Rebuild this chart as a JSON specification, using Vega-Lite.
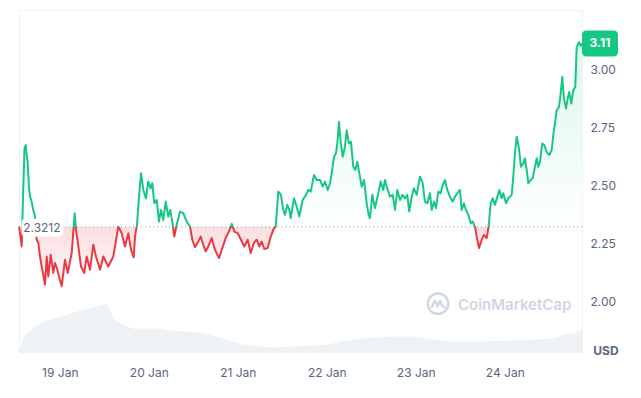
{
  "$schema": "https://vega.github.io/schema/vega-lite/v6.json",
  "width": 563,
  "height": 342,
  "autosize": {"type": "none"},
  "padding": {"left": 19, "top": 10, "right": 59, "bottom": 46},
  "background": "white",
  "config": {
    "view": {"stroke": "#eff2f5"},
    "axis": {"labelFont": "Inter", "labelColor": "#58667e", "labelFontSize": 12},
    "text": {"font": "Inter"}
  },
  "datasets": {
    "price": [
      {"t":"2024-01-18T13:00Z","price":2.323},{"t":"2024-01-18T13:24Z","price":2.28},{"t":"2024-01-18T13:44Z","price":2.237},{"t":"2024-01-18T14:05Z","price":2.45},{"t":"2024-01-18T14:29Z","price":2.66},{"t":"2024-01-18T14:48Z","price":2.673},{"t":"2024-01-18T15:01Z","price":2.64},{"t":"2024-01-18T15:21Z","price":2.596},{"t":"2024-01-18T15:42Z","price":2.489},{"t":"2024-01-18T15:58Z","price":2.451},{"t":"2024-01-18T16:25Z","price":2.43},{"t":"2024-01-18T16:51Z","price":2.394},{"t":"2024-01-18T17:19Z","price":2.366},{"t":"2024-01-18T17:46Z","price":2.266},{"t":"2024-01-18T18:12Z","price":2.253},{"t":"2024-01-18T18:40Z","price":2.194},{"t":"2024-01-18T19:07Z","price":2.151},{"t":"2024-01-18T20:01Z","price":2.073},{"t":"2024-01-18T20:28Z","price":2.194},{"t":"2024-01-18T20:54Z","price":2.108},{"t":"2024-01-18T21:33Z","price":2.201},{"t":"2024-01-18T22:15Z","price":2.123},{"t":"2024-01-18T22:42Z","price":2.166},{"t":"2024-01-18T23:20Z","price":2.137},{"t":"2024-01-18T23:47Z","price":2.108},
      {"t":"2024-01-19T00:31Z","price":2.066},{"t":"2024-01-19T01:24Z","price":2.18},{"t":"2024-01-19T02:08Z","price":2.123},{"t":"2024-01-19T03:13Z","price":2.209},{"t":"2024-01-19T03:45Z","price":2.323},{"t":"2024-01-19T04:01Z","price":2.38},{"t":"2024-01-19T04:22Z","price":2.309},{"t":"2024-01-19T05:00Z","price":2.237},{"t":"2024-01-19T05:43Z","price":2.151},{"t":"2024-01-19T06:37Z","price":2.123},{"t":"2024-01-19T07:15Z","price":2.194},{"t":"2024-01-19T08:09Z","price":2.137},{"t":"2024-01-19T09:02Z","price":2.244},{"t":"2024-01-19T09:46Z","price":2.194},{"t":"2024-01-19T10:51Z","price":2.137},{"t":"2024-01-19T11:44Z","price":2.194},{"t":"2024-01-19T13:05Z","price":2.151},{"t":"2024-01-19T14:26Z","price":2.194},{"t":"2024-01-19T15:47Z","price":2.323},{"t":"2024-01-19T16:42Z","price":2.294},{"t":"2024-01-19T17:35Z","price":2.237},{"t":"2024-01-19T18:29Z","price":2.294},{"t":"2024-01-19T19:12Z","price":2.223},{"t":"2024-01-19T19:56Z","price":2.19},{"t":"2024-01-19T20:17Z","price":2.28},{"t":"2024-01-19T20:49Z","price":2.33},{"t":"2024-01-19T21:22Z","price":2.45},{"t":"2024-01-19T21:54Z","price":2.552},{"t":"2024-01-19T22:31Z","price":2.48},{"t":"2024-01-19T23:15Z","price":2.444},{"t":"2024-01-19T23:52Z","price":2.516},
      {"t":"2024-01-20T00:31Z","price":2.487},{"t":"2024-01-20T00:57Z","price":2.509},{"t":"2024-01-20T01:29Z","price":2.423},{"t":"2024-01-20T02:08Z","price":2.437},{"t":"2024-01-20T02:45Z","price":2.344},{"t":"2024-01-20T03:18Z","price":2.394},{"t":"2024-01-20T03:55Z","price":2.351},{"t":"2024-01-20T04:34Z","price":2.43},{"t":"2024-01-20T05:16Z","price":2.366},{"t":"2024-01-20T05:48Z","price":2.394},{"t":"2024-01-20T06:20Z","price":2.344},{"t":"2024-01-20T06:53Z","price":2.28},{"t":"2024-01-20T07:25Z","price":2.323},{"t":"2024-01-20T08:25Z","price":2.387},{"t":"2024-01-20T09:18Z","price":2.38},{"t":"2024-01-20T10:13Z","price":2.344},{"t":"2024-01-20T11:07Z","price":2.323},{"t":"2024-01-20T11:44Z","price":2.266},{"t":"2024-01-20T12:28Z","price":2.234},{"t":"2024-01-20T13:21Z","price":2.258},{"t":"2024-01-20T14:00Z","price":2.28},{"t":"2024-01-20T14:42Z","price":2.244},{"t":"2024-01-20T15:21Z","price":2.216},{"t":"2024-01-20T16:03Z","price":2.237},{"t":"2024-01-20T16:58Z","price":2.273},{"t":"2024-01-20T17:51Z","price":2.223},{"t":"2024-01-20T18:56Z","price":2.187},{"t":"2024-01-20T19:50Z","price":2.23},{"t":"2024-01-20T20:44Z","price":2.273},{"t":"2024-01-20T21:38Z","price":2.301},{"t":"2024-01-20T22:22Z","price":2.334},{"t":"2024-01-20T23:04Z","price":2.301},{"t":"2024-01-20T23:59Z","price":2.294},
      {"t":"2024-01-21T00:52Z","price":2.266},{"t":"2024-01-21T01:46Z","price":2.237},{"t":"2024-01-21T02:41Z","price":2.266},{"t":"2024-01-21T03:29Z","price":2.209},{"t":"2024-01-21T04:22Z","price":2.252},{"t":"2024-01-21T05:06Z","price":2.266},{"t":"2024-01-21T05:48Z","price":2.237},{"t":"2024-01-21T06:27Z","price":2.258},{"t":"2024-01-21T07:09Z","price":2.226},{"t":"2024-01-21T08:04Z","price":2.23},{"t":"2024-01-21T08:46Z","price":2.273},{"t":"2024-01-21T09:35Z","price":2.309},{"t":"2024-01-21T10:14Z","price":2.323},{"t":"2024-01-21T10:56Z","price":2.473},{"t":"2024-01-21T11:39Z","price":2.459},{"t":"2024-01-21T12:12Z","price":2.4},{"t":"2024-01-21T12:44Z","price":2.373},{"t":"2024-01-21T13:21Z","price":2.416},{"t":"2024-01-21T13:54Z","price":2.394},{"t":"2024-01-21T14:16Z","price":2.359},{"t":"2024-01-21T15:10Z","price":2.444},{"t":"2024-01-21T15:53Z","price":2.408},{"t":"2024-01-21T16:35Z","price":2.366},{"t":"2024-01-21T17:30Z","price":2.437},{"t":"2024-01-21T18:24Z","price":2.459},{"t":"2024-01-21T19:01Z","price":2.48},{"t":"2024-01-21T19:40Z","price":2.473},{"t":"2024-01-21T20:33Z","price":2.544},{"t":"2024-01-21T21:17Z","price":2.523},{"t":"2024-01-21T22:10Z","price":2.523},{"t":"2024-01-21T22:54Z","price":2.494},{"t":"2024-01-21T23:31Z","price":2.516},
      {"t":"2024-01-22T00:15Z","price":2.48},{"t":"2024-01-22T00:52Z","price":2.509},{"t":"2024-01-22T01:20Z","price":2.552},{"t":"2024-01-22T01:57Z","price":2.623},{"t":"2024-01-22T02:29Z","price":2.637},{"t":"2024-01-22T02:50Z","price":2.68},{"t":"2024-01-22T03:18Z","price":2.773},{"t":"2024-01-22T03:45Z","price":2.687},{"t":"2024-01-22T04:18Z","price":2.623},{"t":"2024-01-22T04:55Z","price":2.666},{"t":"2024-01-22T05:22Z","price":2.737},{"t":"2024-01-22T05:59Z","price":2.68},{"t":"2024-01-22T06:32Z","price":2.687},{"t":"2024-01-22T07:09Z","price":2.58},{"t":"2024-01-22T07:42Z","price":2.566},{"t":"2024-01-22T08:14Z","price":2.601},{"t":"2024-01-22T08:57Z","price":2.537},{"t":"2024-01-22T09:25Z","price":2.494},{"t":"2024-01-22T10:02Z","price":2.523},{"t":"2024-01-22T10:46Z","price":2.423},{"t":"2024-01-22T11:18Z","price":2.373},{"t":"2024-01-22T11:39Z","price":2.359},{"t":"2024-01-22T12:17Z","price":2.459},{"t":"2024-01-22T13:00Z","price":2.402},{"t":"2024-01-22T13:54Z","price":2.466},{"t":"2024-01-22T14:32Z","price":2.516},{"t":"2024-01-22T15:15Z","price":2.48},{"t":"2024-01-22T15:42Z","price":2.523},{"t":"2024-01-22T16:19Z","price":2.487},{"t":"2024-01-22T17:03Z","price":2.451},{"t":"2024-01-22T17:47Z","price":2.459},{"t":"2024-01-22T18:24Z","price":2.394},{"t":"2024-01-22T19:01Z","price":2.48},{"t":"2024-01-22T19:45Z","price":2.437},{"t":"2024-01-22T20:28Z","price":2.459},{"t":"2024-01-22T21:06Z","price":2.444},{"t":"2024-01-22T21:43Z","price":2.459},{"t":"2024-01-22T22:15Z","price":2.387},{"t":"2024-01-22T22:54Z","price":2.451},{"t":"2024-01-22T23:31Z","price":2.487},
      {"t":"2024-01-23T00:15Z","price":2.459},{"t":"2024-01-23T01:08Z","price":2.537},{"t":"2024-01-23T01:52Z","price":2.509},{"t":"2024-01-23T02:29Z","price":2.43},{"t":"2024-01-23T03:07Z","price":2.423},{"t":"2024-01-23T03:50Z","price":2.466},{"t":"2024-01-23T04:18Z","price":2.394},{"t":"2024-01-23T04:55Z","price":2.43},{"t":"2024-01-23T05:27Z","price":2.402},{"t":"2024-01-23T06:05Z","price":2.473},{"t":"2024-01-23T06:43Z","price":2.466},{"t":"2024-01-23T07:16Z","price":2.501},{"t":"2024-01-23T07:53Z","price":2.523},{"t":"2024-01-23T08:30Z","price":2.48},{"t":"2024-01-23T09:14Z","price":2.451},{"t":"2024-01-23T09:57Z","price":2.43},{"t":"2024-01-23T10:35Z","price":2.451},{"t":"2024-01-23T11:12Z","price":2.466},{"t":"2024-01-23T11:55Z","price":2.48},{"t":"2024-01-23T12:23Z","price":2.394},{"t":"2024-01-23T13:00Z","price":2.423},{"t":"2024-01-23T13:32Z","price":2.394},{"t":"2024-01-23T14:10Z","price":2.373},{"t":"2024-01-23T14:49Z","price":2.337},{"t":"2024-01-23T15:21Z","price":2.344},{"t":"2024-01-23T15:58Z","price":2.323},{"t":"2024-01-23T16:26Z","price":2.28},{"t":"2024-01-23T17:03Z","price":2.23},{"t":"2024-01-23T17:47Z","price":2.266},{"t":"2024-01-23T18:24Z","price":2.287},{"t":"2024-01-23T19:08Z","price":2.273},{"t":"2024-01-23T19:40Z","price":2.323},{"t":"2024-01-23T20:12Z","price":2.423},{"t":"2024-01-23T20:45Z","price":2.444},{"t":"2024-01-23T21:22Z","price":2.416},{"t":"2024-01-23T21:59Z","price":2.451},{"t":"2024-01-23T22:32Z","price":2.48},{"t":"2024-01-23T23:10Z","price":2.444},{"t":"2024-01-23T23:36Z","price":2.466},
      {"t":"2024-01-24T00:20Z","price":2.423},{"t":"2024-01-24T00:57Z","price":2.444},{"t":"2024-01-24T01:52Z","price":2.459},{"t":"2024-01-24T02:18Z","price":2.537},{"t":"2024-01-24T02:45Z","price":2.637},{"t":"2024-01-24T03:13Z","price":2.709},{"t":"2024-01-24T03:50Z","price":2.659},{"t":"2024-01-24T04:22Z","price":2.58},{"t":"2024-01-24T05:00Z","price":2.594},{"t":"2024-01-24T05:27Z","price":2.616},{"t":"2024-01-24T05:55Z","price":2.566},{"t":"2024-01-24T06:21Z","price":2.509},{"t":"2024-01-24T07:00Z","price":2.523},{"t":"2024-01-24T07:32Z","price":2.53},{"t":"2024-01-24T08:09Z","price":2.58},{"t":"2024-01-24T08:37Z","price":2.616},{"t":"2024-01-24T09:03Z","price":2.58},{"t":"2024-01-24T09:30Z","price":2.601},{"t":"2024-01-24T10:07Z","price":2.68},{"t":"2024-01-24T10:40Z","price":2.673},{"t":"2024-01-24T11:18Z","price":2.644},{"t":"2024-01-24T12:01Z","price":2.63},{"t":"2024-01-24T12:39Z","price":2.652},{"t":"2024-01-24T13:05Z","price":2.716},{"t":"2024-01-24T13:33Z","price":2.766},{"t":"2024-01-24T14:00Z","price":2.823},{"t":"2024-01-24T14:37Z","price":2.837},{"t":"2024-01-24T15:05Z","price":2.895},{"t":"2024-01-24T15:31Z","price":2.966},{"t":"2024-01-24T15:58Z","price":2.873},{"t":"2024-01-24T16:31Z","price":2.83},{"t":"2024-01-24T16:58Z","price":2.873},{"t":"2024-01-24T17:24Z","price":2.901},{"t":"2024-01-24T17:57Z","price":2.852},{"t":"2024-01-24T18:29Z","price":2.909},{"t":"2024-01-24T19:01Z","price":2.923},{"t":"2024-01-24T19:24Z","price":3.094},{"t":"2024-01-24T20:01Z","price":3.116},{"t":"2024-01-24T20:29Z","price":3.1},{"t":"2024-01-24T20:50Z","price":3.11}
    ],
    "volume": [
      {"t":"2024-01-18T13:00Z","vol":1},{"t":"2024-01-18T14:37Z","vol":34},{"t":"2024-01-18T16:51Z","vol":47},{"t":"2024-01-18T19:33Z","vol":61},{"t":"2024-01-18T22:15Z","vol":67},{"t":"2024-01-19T01:52Z","vol":74},{"t":"2024-01-19T05:27Z","vol":83},{"t":"2024-01-19T09:02Z","vol":89},{"t":"2024-01-19T12:49Z","vol":96},{"t":"2024-01-19T13:32Z","vol":84},{"t":"2024-01-19T14:53Z","vol":64},{"t":"2024-01-19T18:03Z","vol":51},{"t":"2024-01-19T20:44Z","vol":45},{"t":"2024-01-19T22:31Z","vol":47},{"t":"2024-01-20T03:01Z","vol":47},{"t":"2024-01-20T05:43Z","vol":43},{"t":"2024-01-20T10:13Z","vol":41},{"t":"2024-01-20T13:49Z","vol":39},{"t":"2024-01-20T17:35Z","vol":32},{"t":"2024-01-20T21:30Z","vol":24},{"t":"2024-01-21T01:23Z","vol":15},{"t":"2024-01-21T09:10Z","vol":9},{"t":"2024-01-21T15:02Z","vol":11},{"t":"2024-01-21T23:47Z","vol":14},{"t":"2024-01-22T04:39Z","vol":22},{"t":"2024-01-22T09:32Z","vol":27},{"t":"2024-01-22T17:19Z","vol":31},{"t":"2024-01-23T00:04Z","vol":31},{"t":"2024-01-23T04:55Z","vol":25},{"t":"2024-01-23T09:46Z","vol":21},{"t":"2024-01-23T17:28Z","vol":21},{"t":"2024-01-24T05:11Z","vol":24},{"t":"2024-01-24T13:00Z","vol":27},{"t":"2024-01-24T15:58Z","vol":35},{"t":"2024-01-24T18:56Z","vol":38},{"t":"2024-01-24T20:50Z","vol":44}
    ]
  },
  "layer": [
    {
      "data": {"name": "volume"},
      "mark": {"type": "area", "fill": "#eff2f5"},
      "encoding": {
        "x": {
          "field": "t", "type": "temporal",
          "scale": {"type": "utc", "domain": [
            {"year": 2024, "month": 1, "date": 18, "hours": 13, "minutes": 0, "utc": true},
            {"year": 2024, "month": 1, "date": 24, "hours": 20, "minutes": 50, "utc": true}
          ]},
          "axis": {
            "title": null,
            "labelExpr": "utcFormat(datum.value, '%-d %b')",
            "values": [
              {"year": 2024, "month": 1, "date": 19, "utc": true},
              {"year": 2024, "month": 1, "date": 20, "utc": true},
              {"year": 2024, "month": 1, "date": 21, "utc": true},
              {"year": 2024, "month": 1, "date": 22, "utc": true},
              {"year": 2024, "month": 1, "date": 23, "utc": true},
              {"year": 2024, "month": 1, "date": 24, "utc": true}
            ],
            "grid": false, "ticks": false, "domain": false, "labelPadding": 15
          }
        },
        "y": {"field": "vol", "type": "quantitative", "scale": {"domain": [0, 684]}, "axis": null}
      }
    },
    {
      "layer": [
        {
          "data": {"name": "price"},
          "mark": {
            "type": "area",
            "fill": {"gradient": "linear", "x1": 0, "y1": 0, "x2": 0, "y2": 1, "stops": [
              {"offset": 0, "color": "rgba(22,199,132,0.14)"},
              {"offset": 0.757, "color": "rgba(22,199,132,0.01)"},
              {"offset": 0.757, "color": "rgba(234,57,67,0.17)"},
              {"offset": 1, "color": "rgba(234,57,67,0.03)"}
            ]}
          },
          "encoding": {
            "x": {"field": "t", "type": "temporal"},
            "y": {
              "field": "price", "type": "quantitative",
              "scale": {"domain": [1.783, 3.254], "nice": false, "zero": false},
              "axis": {
                "title": null, "orient": "right", "values": [2, 2.25, 2.5, 2.75, 3], "format": ".2f",
                "ticks": false, "domain": false, "labelPadding": 8, "gridColor": "#eff2f5"
              }
            },
            "y2": {"datum": 2.3212}
          }
        },
        {
          "data": {"values": [{}]},
          "mark": {"type": "rule", "stroke": "#8f99a8", "strokeDash": [1, 3], "strokeWidth": 1},
          "encoding": {"y": {"datum": 2.3212, "type": "quantitative"}}
        },
        {
          "data": {"name": "price"},
          "mark": {
            "type": "line", "strokeWidth": 2, "strokeJoin": "round",
            "stroke": {"gradient": "linear", "x1": 0, "y1": 0, "x2": 0, "y2": 1, "stops": [
              {"offset": 0, "color": "#16c784"},
              {"offset": 0.757, "color": "#16c784"},
              {"offset": 0.757, "color": "#ea3943"},
              {"offset": 1, "color": "#ea3943"}
            ]}
          },
          "encoding": {
            "x": {"field": "t", "type": "temporal"},
            "y": {"field": "price", "type": "quantitative"}
          }
        },
        {
          "data": {"values": [{}]},
          "mark": {"type": "rect", "fill": "white", "cornerRadius": 4},
          "encoding": {
            "x": {"datum": {"year": 2024, "month": 1, "date": 18, "hours": 13, "minutes": 40, "utc": true}, "type": "temporal"},
            "x2": {"datum": {"year": 2024, "month": 1, "date": 19, "hours": 0, "minutes": 52, "utc": true}},
            "y": {"datum": 2.356, "type": "quantitative"},
            "y2": {"datum": 2.279}
          }
        },
        {
          "data": {"values": [{"label": "2.3212"}]},
          "mark": {"type": "text", "fontSize": 12, "color": "#58667e", "align": "center", "baseline": "middle", "dy": 1},
          "encoding": {
            "x": {"datum": {"year": 2024, "month": 1, "date": 18, "hours": 19, "minutes": 10, "utc": true}, "type": "temporal"},
            "y": {"datum": 2.3212, "type": "quantitative"},
            "text": {"field": "label"}
          }
        },
        {
          "data": {"values": [{}]},
          "mark": {"type": "rect", "fill": "#16c784", "cornerRadius": 4, "clip": false},
          "encoding": {
            "x": {"datum": {"year": 2024, "month": 1, "date": 24, "hours": 20, "minutes": 50, "utc": true}, "type": "temporal"},
            "x2": {"datum": {"year": 2024, "month": 1, "date": 25, "hours": 6, "minutes": 32, "utc": true}},
            "y": {"datum": 3.166, "type": "quantitative"},
            "y2": {"datum": 3.054}
          }
        },
        {
          "data": {"values": [{"label": "3.11"}]},
          "mark": {"type": "text", "fontSize": 12, "fontWeight": "bold", "color": "white", "align": "center", "baseline": "middle"},
          "encoding": {
            "x": {"datum": {"year": 2024, "month": 1, "date": 25, "hours": 1, "minutes": 41, "utc": true}, "type": "temporal"},
            "y": {"datum": 3.11, "type": "quantitative"},
            "text": {"field": "label"}
          }
        },
        {
          "data": {"values": [{"label": "USD"}]},
          "mark": {"type": "text", "fontSize": 12, "fontWeight": "bold", "color": "#58667e", "align": "center", "baseline": "middle"},
          "encoding": {
            "x": {"datum": {"year": 2024, "month": 1, "date": 25, "hours": 3, "minutes": 18, "utc": true}, "type": "temporal"},
            "y": {"datum": 1.788, "type": "quantitative"},
            "text": {"field": "label"}
          }
        },
        {
          "data": {"values": [{"label": "CoinMarketCap"}]},
          "mark": {"type": "text", "fontSize": 15, "fontWeight": 600, "color": "#cfd6e4", "align": "left", "baseline": "middle"},
          "encoding": {
            "x": {"datum": {"year": 2024, "month": 1, "date": 23, "hours": 11, "minutes": 23, "utc": true}, "type": "temporal"},
            "y": {"datum": 1.987, "type": "quantitative"},
            "text": {"field": "label"}
          }
        },
        {
          "data": {"values": [{}]},
          "mark": {"type": "point", "shape": "circle", "filled": false, "size": 420, "stroke": "#cfd6e4", "strokeWidth": 2.4, "opacity": 1},
          "encoding": {
            "x": {"datum": {"year": 2024, "month": 1, "date": 23, "hours": 6, "minutes": 0, "utc": true}, "type": "temporal"},
            "y": {"datum": 1.991, "type": "quantitative"}
          }
        },
        {
          "data": {"values": [{}]},
          "mark": {"type": "point", "shape": "M-0.6,0.3 L-0.3,-0.3 L-0.05,0.25 L0.2,-0.3 L0.4,0.2 L0.65,0.35", "filled": false, "size": 420, "stroke": "#cfd6e4", "strokeWidth": 2.4, "strokeJoin": "round", "strokeCap": "round", "opacity": 1},
          "encoding": {
            "x": {"datum": {"year": 2024, "month": 1, "date": 23, "hours": 6, "minutes": 0, "utc": true}, "type": "temporal"},
            "y": {"datum": 1.991, "type": "quantitative"}
          }
        }
      ]
    }
  ],
  "resolve": {"scale": {"y": "independent"}}
}
